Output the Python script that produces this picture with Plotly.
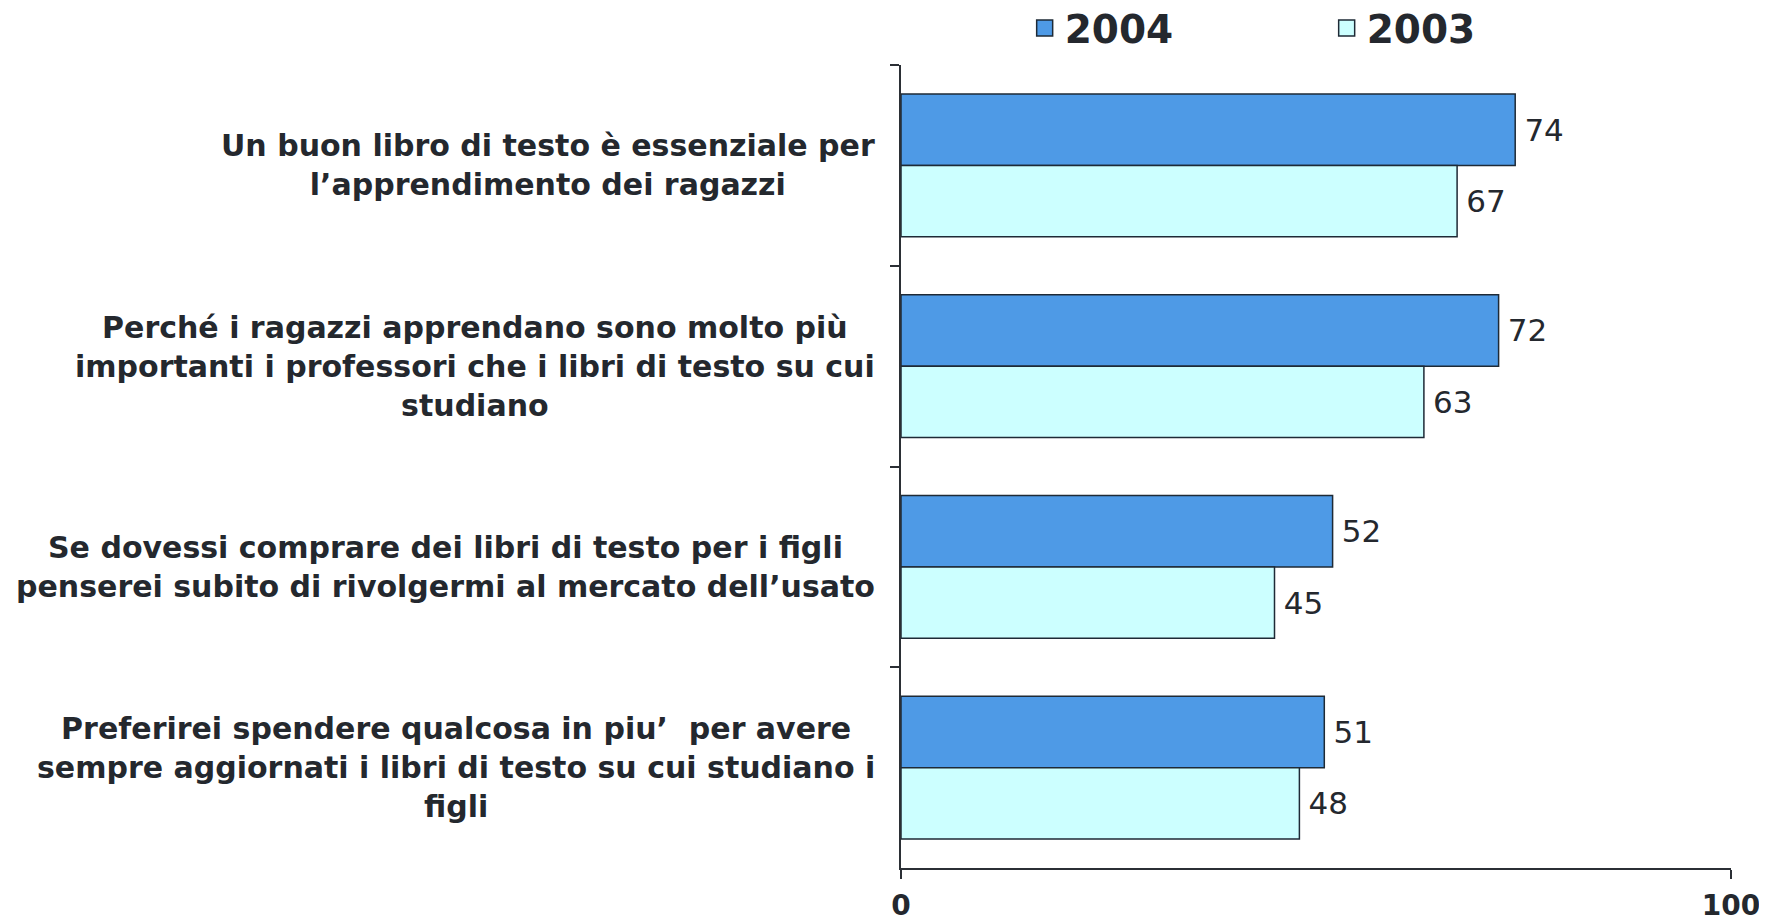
import plotly.graph_objects as go

categories = [
    "Un buon libro di testo è essenziale per<br>l’apprendimento dei ragazzi",
    "Perché i ragazzi apprendano sono molto più<br>importanti i professori che i libri di testo su cui<br>studiano",
    "Se dovessi comprare dei libri di testo per i figli<br>penserei subito di rivolgermi al mercato dell’usato",
    "Preferirei spendere qualcosa in piu’  per avere<br>sempre aggiornati i libri di testo su cui studiano i<br>figli",
]
cat_ids = ["c1", "c2", "c3", "c4"]
values_2004 = [74, 72, 52, 51]
values_2003 = [67, 63, 45, 48]
series_names = ["2004", "2003"]
series_colors = ["#4e9ae6", "#ccffff"]
x_ticks = [0, 100]

FONT = "DejaVu Sans"
TXT = "#24282e"
EDGE = "#1e2a36"

fig = go.Figure()
for name, vals, col in zip(series_names, [values_2004, values_2003], series_colors):
    fig.add_trace(go.Bar(
        y=cat_ids, x=vals, name=name, orientation="h", showlegend=False,
        marker=dict(color=col, line=dict(color=EDGE, width=1.5)),
        text=vals, texttemplate="\u2009%{text}", textposition="outside", cliponaxis=False,
        textfont=dict(family=FONT, size=31, color=TXT),
    ))

# legend entries (square swatches)
for name, col in zip(series_names, series_colors):
    fig.add_trace(go.Scatter(
        x=[None], y=[None], mode="markers", name=name, showlegend=True,
        marker=dict(symbol="square", size=16, color=col, line=dict(color=EDGE, width=1.5)),
    ))

for cid, label in zip(cat_ids, categories):
    fig.add_annotation(
        x=0, xref="paper", y=cid, yref="y", xanchor="right", yanchor="middle",
        xshift=-24, text=f"<b>{label}</b>", showarrow=False, align="center",
        font=dict(family=FONT, size=30, color=TXT),
    )

fig.update_layout(
    width=1759, height=916,
    margin=dict(l=893, r=36, t=57, b=56, autoexpand=False),
    paper_bgcolor="white", plot_bgcolor="white",
    barmode="group", bargap=0.29, bargroupgap=0,
    showlegend=True,
    legend=dict(
        orientation="h", x=0.149, xanchor="left", y=0.978, yanchor="middle",
        yref="container",
        font=dict(family=FONT, size=39, color=TXT, weight="bold"),
        entrywidth=257, entrywidthmode="pixels",
        bgcolor="rgba(0,0,0,0)",
    ),
    xaxis=dict(
        range=[0, 100], tickvals=x_ticks, ticktext=[f"<b>{t}</b>" for t in x_ticks],
        showgrid=False, zeroline=False, showline=True, linecolor="#2b2f35", linewidth=2,
        ticks="outside", ticklen=9, tickcolor="#2b2f35", tickwidth=2,
        tickfont=dict(family=FONT, size=28, color=TXT),
        ticklabelstandoff=2,
    ),
    yaxis=dict(
        type="category", categoryorder="array", categoryarray=cat_ids,
        autorange="reversed", showticklabels=False,
        showgrid=False, zeroline=False, showline=True, linecolor="#2b2f35", linewidth=2,
        ticks="outside", ticklen=9, tickcolor="#2b2f35", tickwidth=2,
        tickson="boundaries",
    ),
)

fig.write_html("out.html")
